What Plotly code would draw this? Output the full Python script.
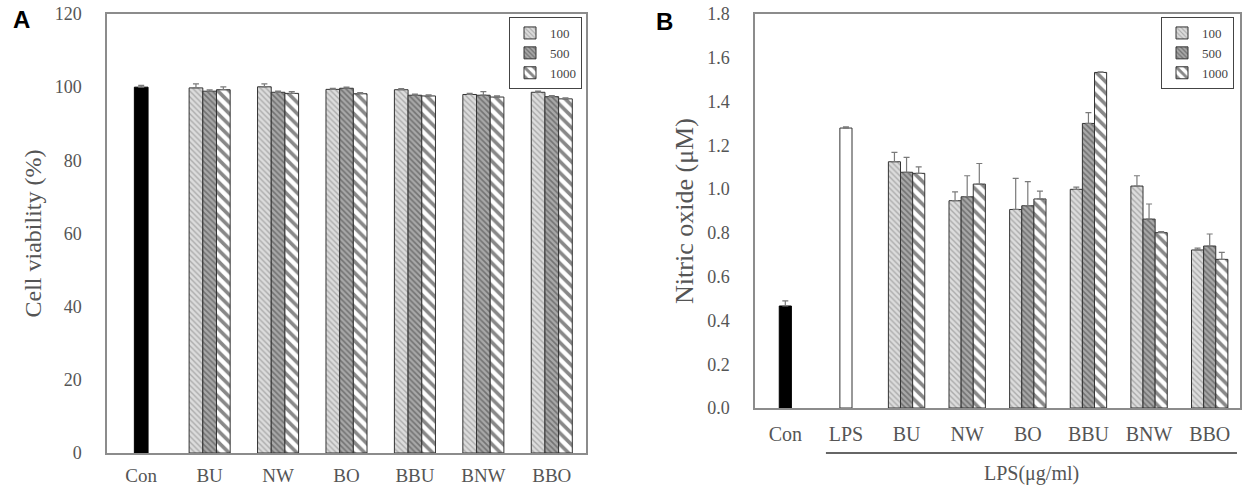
import plotly.graph_objects as go

# ---------------- data ----------------
cats_a = ["Con", "BU", "NW", "BO", "BBU", "BNW", "BBO"]
groups_a = ["BU", "NW", "BO", "BBU", "BNW", "BBO"]
con_a = [100.0]
con_a_err = [0.5]
a_100 = [99.8, 100.1, 99.4, 99.3, 98.0, 98.6]
a_100_err = [1.1, 0.8, 0.3, 0.3, 0.3, 0.3]
a_500 = [98.9, 98.6, 99.7, 97.8, 97.8, 97.4]
a_500_err = [0.4, 0.3, 0.3, 0.3, 1.0, 0.3]
a_1000 = [99.3, 98.3, 98.2, 97.6, 97.3, 96.8]
a_1000_err = [0.8, 0.5, 0.3, 0.3, 0.3, 0.3]

cats_b = ["Con", "LPS", "BU", "NW", "BO", "BBU", "BNW", "BBO"]
groups_b = ["BU", "NW", "BO", "BBU", "BNW", "BBO"]
con_b = [0.466]
con_b_err = [0.023]
lps_b = [1.279]
lps_b_err = [0.005]
b_100 = [1.125, 0.947, 0.907, 0.999, 1.014, 0.722]
b_100_err = [0.043, 0.040, 0.142, 0.010, 0.047, 0.008]
b_500 = [1.077, 0.965, 0.924, 1.300, 0.863, 0.740]
b_500_err = [0.068, 0.096, 0.110, 0.049, 0.069, 0.055]
b_1000 = [1.072, 1.023, 0.955, 1.533, 0.801, 0.679]
b_1000_err = [0.030, 0.094, 0.036, 0.003, 0.005, 0.032]

series_names = ["100", "500", "1000"]

# ---------------- styles ----------------
SERIF = "Liberation Serif, Times New Roman, serif"
GRAY_TXT = "#555555"
FRAME = "#8c8c8c"
BW = 0.2
offsets = [-0.3, -0.1, 0.1]
patterns = [
    dict(shape="\\", bgcolor="#dcdcdc", fgcolor="#7a7a7a", size=4, solidity=0.35),
    dict(shape="\\", bgcolor="#a8a8a8", fgcolor="#3c3c3c", size=4, solidity=0.4),
    dict(shape="\\", bgcolor="#ffffff", fgcolor="#111111", size=8, solidity=0.45),
]
err_style = dict(color="#7a7a7a", thickness=1.2, width=3)


def err(vals):
    return dict(type="data", symmetric=False, array=vals,
                arrayminus=[0] * len(vals), **err_style)


fig = go.Figure()

# ---- panel A ----
fig.add_trace(go.Bar(x=["Con"], y=con_a, error_y=err(con_a_err), width=BW, offset=-BW / 2,
                     marker=dict(color="#000000", line=dict(color="#000000", width=1)),
                     showlegend=False, xaxis="x", yaxis="y"))
for name, vals, errs, off, pat in zip(series_names, [a_100, a_500, a_1000],
                                      [a_100_err, a_500_err, a_1000_err], offsets, patterns):
    fig.add_trace(go.Bar(x=groups_a, y=vals, error_y=err(errs), width=BW, offset=off, name=name,
                         marker=dict(pattern=pat, line=dict(color="#333333", width=1)),
                         legend="legend", xaxis="x", yaxis="y"))

# ---- panel B ----
fig.add_trace(go.Bar(x=["Con"], y=con_b, error_y=err(con_b_err), width=BW, offset=-BW / 2,
                     marker=dict(color="#000000", line=dict(color="#000000", width=1)),
                     showlegend=False, xaxis="x2", yaxis="y2"))
fig.add_trace(go.Bar(x=["LPS"], y=lps_b, error_y=err(lps_b_err), width=BW, offset=-BW / 2,
                     marker=dict(color="#ffffff", line=dict(color="#333333", width=1)),
                     showlegend=False, xaxis="x2", yaxis="y2"))
for name, vals, errs, off, pat in zip(series_names, [b_100, b_500, b_1000],
                                      [b_100_err, b_500_err, b_1000_err], offsets, patterns):
    fig.add_trace(go.Bar(x=groups_b, y=vals, error_y=err(errs), width=BW, offset=off, name=name,
                         marker=dict(pattern=pat, line=dict(color="#333333", width=1)),
                         legend="legend2", xaxis="x2", yaxis="y2"))

W, H = 1258, 487
axis_common = dict(showline=True, linecolor=FRAME, linewidth=1.5, mirror=True,
                   showgrid=False, zeroline=False, ticks="", automargin=False)
xtick_font = dict(family=SERIF, size=19, color=GRAY_TXT)
ytick_font = dict(family=SERIF, size=18, color=GRAY_TXT)

fig.update_layout(
    width=W, height=H, autosize=False,
    margin=dict(l=0, r=0, t=0, b=0, pad=0, autoexpand=False),
    paper_bgcolor="white", plot_bgcolor="white",
    barmode="overlay",
    xaxis=dict(domain=[107 / W, 586 / W], type="category", categoryorder="array",
               categoryarray=cats_a, range=[-0.5, len(cats_a) - 0.5],
               ticklabelstandoff=4, anchor="y", tickfont=xtick_font, **axis_common),
    yaxis=dict(domain=[1 - 453 / H, 1 - 14 / H], range=[0, 120], dtick=20,
               ticklabelstandoff=20, anchor="x", tickfont=ytick_font,
               title=dict(text="Cell viability (%)", standoff=6,
                          font=dict(family=SERIF, size=24, color=GRAY_TXT)),
               **axis_common),
    xaxis2=dict(domain=[755 / W, 1240 / W], type="category", categoryorder="array",
                categoryarray=cats_b, range=[-0.5, len(cats_b) - 0.5],
                ticklabelstandoff=7, anchor="y2", tickfont=dict(xtick_font, size=20),
                **axis_common),
    yaxis2=dict(domain=[1 - 408 / H, 1 - 14 / H], range=[0, 1.8], dtick=0.2, tickformat=".1f",
                ticklabelstandoff=20, anchor="x2", tickfont=ytick_font,
                title=dict(text="Nitric oxide (μM)", standoff=6,
                           font=dict(family=SERIF, size=26, color=GRAY_TXT)),
                **axis_common),
    legend=dict(x=582 / W, y=1 - 17 / H, xanchor="right", yanchor="top",
                bgcolor="white", bordercolor="#444444", borderwidth=1,
                font=dict(family=SERIF, size=13, color="#444444"),
                itemwidth=30, tracegroupgap=0),
    legend2=dict(x=1234 / W, y=1 - 17 / H, xanchor="right", yanchor="top",
                 bgcolor="white", bordercolor="#444444", borderwidth=1,
                 font=dict(family=SERIF, size=13, color="#444444"),
                 itemwidth=30, tracegroupgap=0),
    showlegend=True,
)

# LPS underline and label for panel B
lps_idx = cats_b.index("LPS")
last_idx = len(cats_b) - 1
x0, x1 = lps_idx - 0.33, last_idx + 0.45
fig.add_shape(type="line", xref="x2", yref="paper", x0=x0, x1=x1,
              y0=1 - 453 / H, y1=1 - 453 / H, line=dict(color="#333333", width=1.5))
fig.add_annotation(xref="x2", yref="paper", x=(x0 + x1) / 2, y=1 - 473 / H,
                   xanchor="center", yanchor="middle",
                   text="LPS(μg/ml)", showarrow=False,
                   font=dict(family=SERIF, size=20, color=GRAY_TXT))

# panel letters
fig.add_annotation(xref="paper", yref="paper", x=21 / W, y=1 - 20 / H, text="<b>A</b>",
                   xanchor="center", yanchor="middle", showarrow=False,
                   font=dict(family="Liberation Sans, Arial", size=24, color="#000000"))
fig.add_annotation(xref="paper", yref="paper", x=665 / W, y=1 - 21 / H, text="<b>B</b>",
                   xanchor="center", yanchor="middle", showarrow=False,
                   font=dict(family="Liberation Sans, Arial", size=24, color="#000000"))

fig.write_html("out.html")
